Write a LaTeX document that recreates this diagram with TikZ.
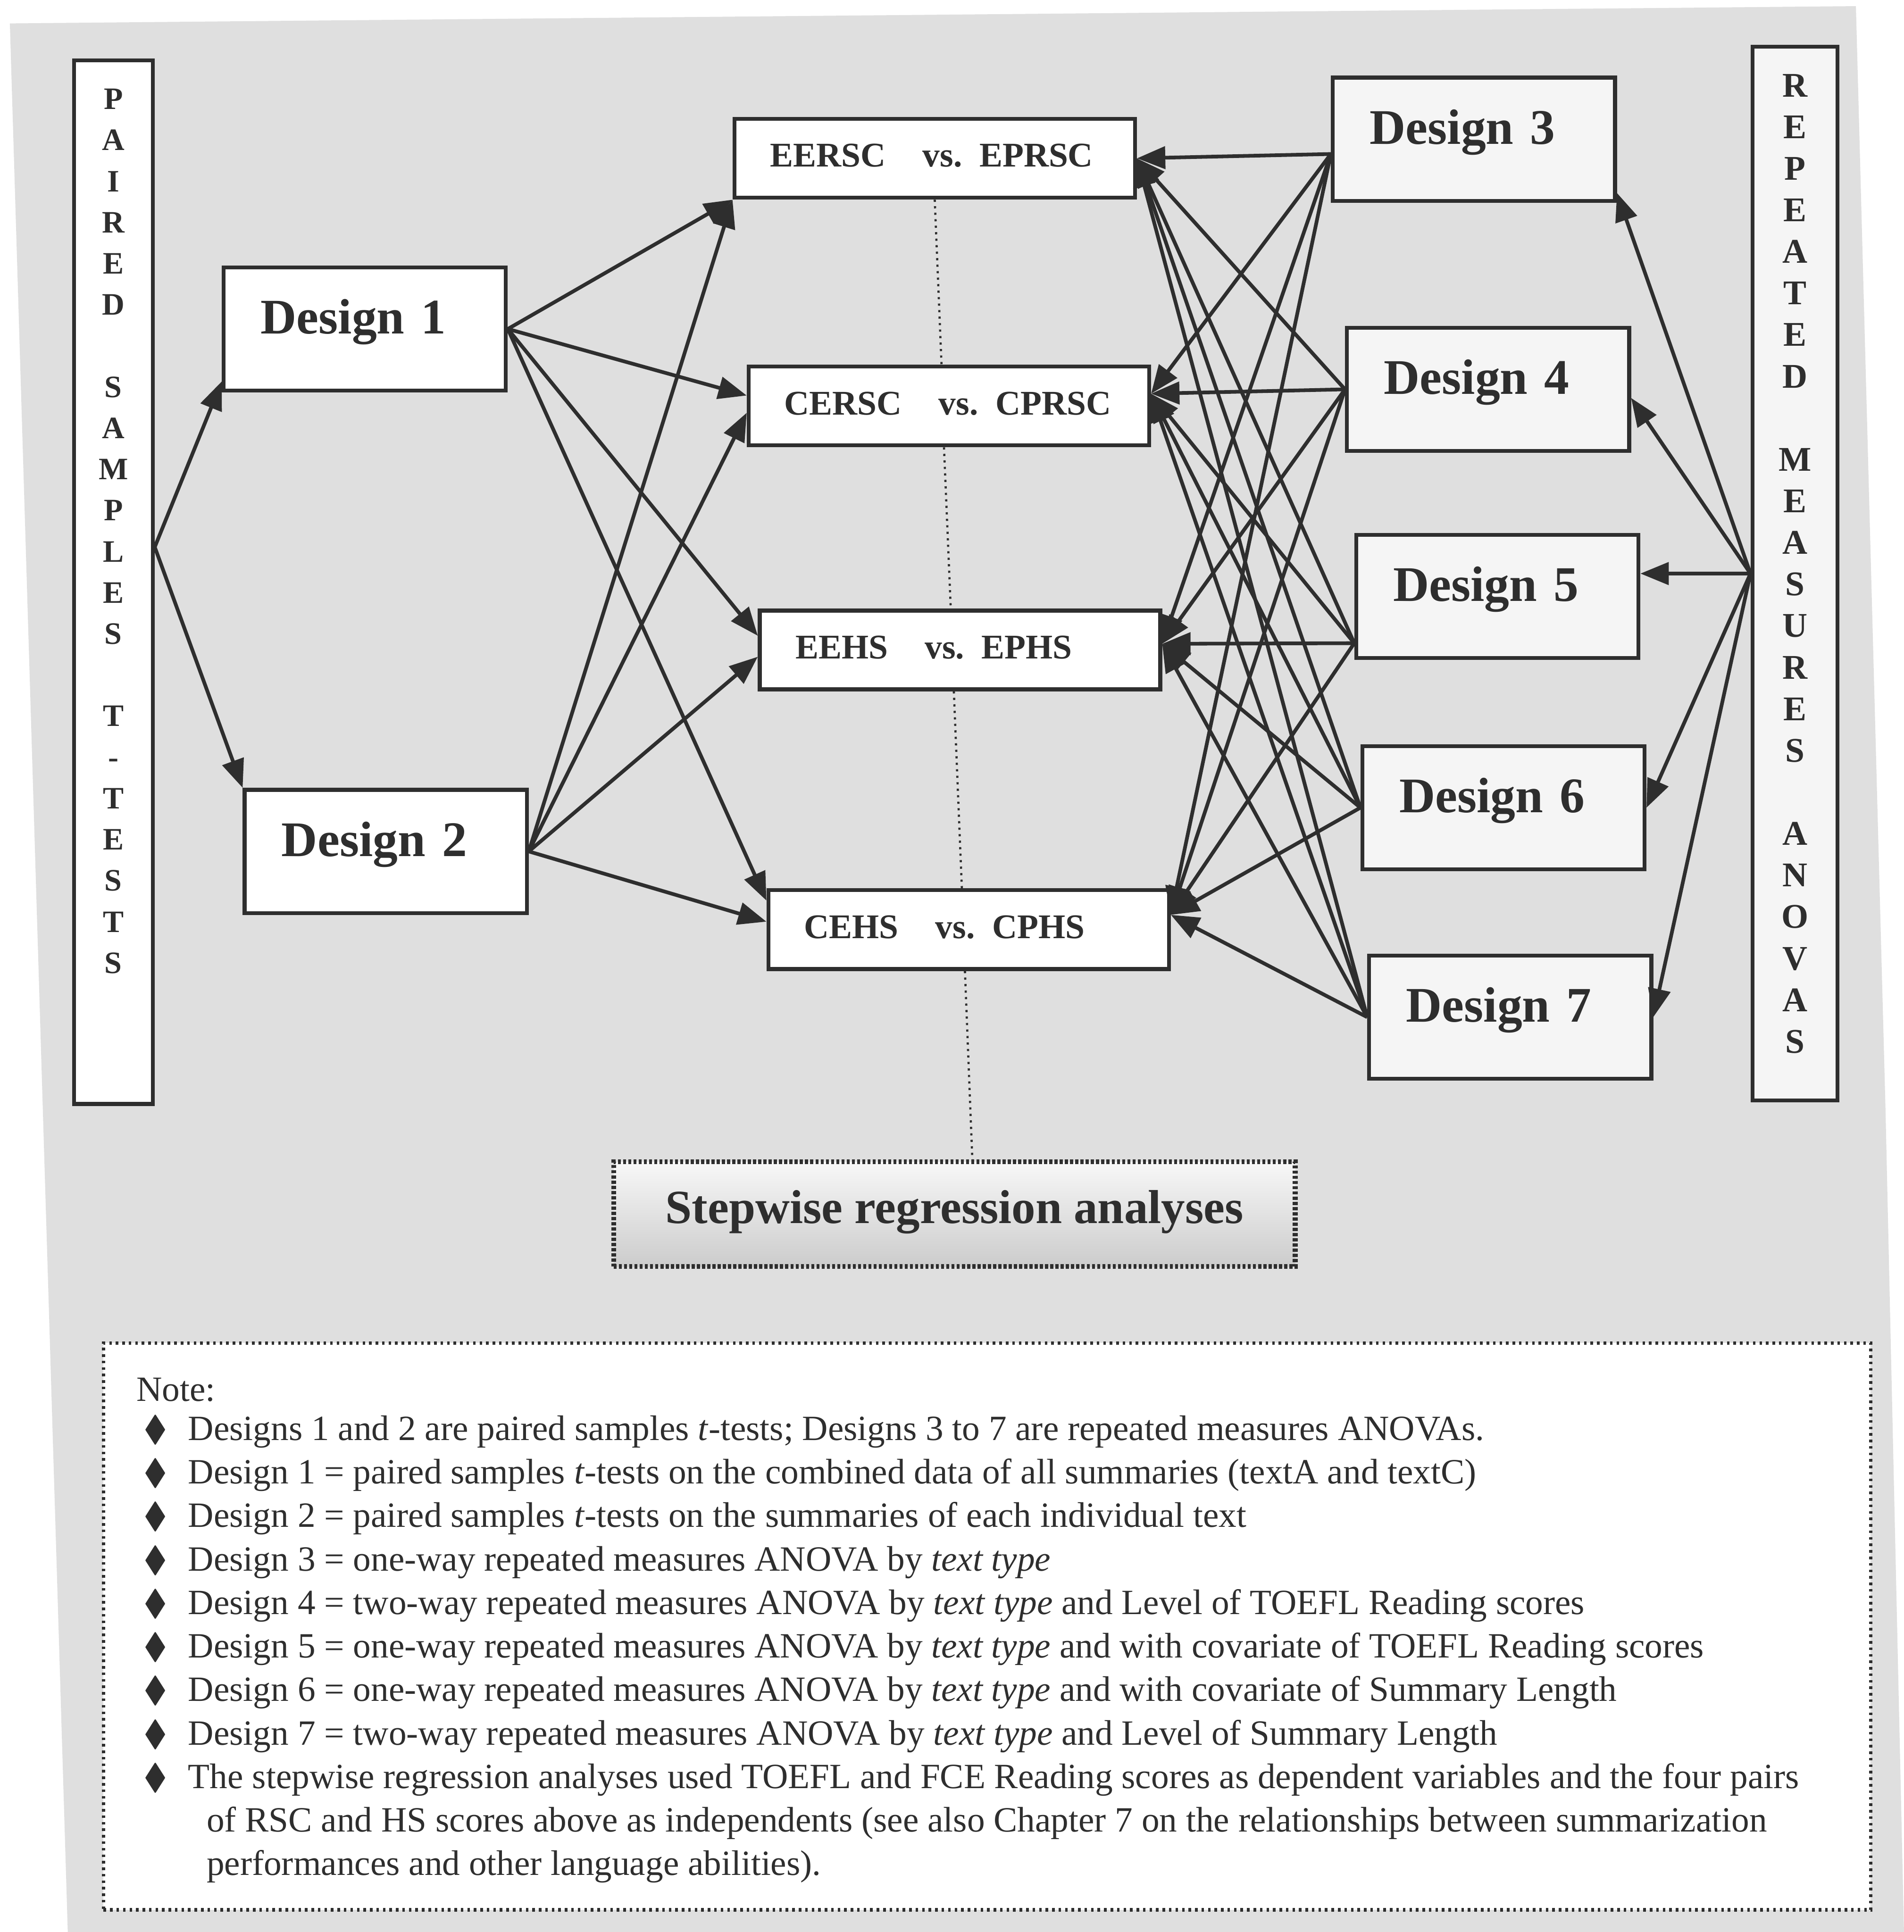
\documentclass[tikz,border=0pt]{standalone}
\usepackage{amsmath,amssymb}
\usepackage{fontspec}
\setmainfont{Liberation Serif}
\usepackage{tikz}
\usetikzlibrary{arrows.meta,positioning,calc}

\definecolor{ink}{gray}{0.18}
\definecolor{scan}{gray}{0.875}
\definecolor{paper}{gray}{0.96}

\newcommand{\notebullet}{\hspace*{0.06cm}$\blacklozenge$}
\newcommand{\pairtext}[2]{\mbox{#1\hspace{0.3cm}vs. #2}}

\tikzset{
  conn/.style={draw=ink, line width=0.85pt, -{Triangle[length=2.3mm,width=1.8mm]}},
  design/.style={draw=ink, line width=0.9pt, fill=white, text=ink,
    minimum width=2.29cm, text width=1.69cm, inner xsep=0.3cm, inner ysep=0pt,
    align=left, text height=0.54cm, text depth=0.46cm,
    font=\bfseries\fontsize{11.5}{13}\selectfont},
  anova/.style={design, fill=paper},
  pair/.style={draw=ink, line width=0.9pt, fill=white, text=ink,
    minimum width=3.25cm, text width=2.67cm, inner xsep=0.29cm, inner ysep=0pt,
    align=left, text height=0.39cm, text depth=0.25cm,
    font=\bfseries\fontsize{8}{9.6}\selectfont},
  bar/.style={draw=ink, line width=0.9pt, fill=white, inner sep=0pt},
  barletters/.style={inner sep=0pt, align=center, anchor=north, text=ink},
  guide/.style={draw=ink, line width=0.5pt, densely dotted},
  stepbox/.style={draw=ink, line width=1.1pt, dash pattern=on 0.7pt off 0.5pt,
    top color=black!3, bottom color=black!20, text=ink,
    minimum width=5.53cm, inner ysep=0pt, text height=0.5cm, text depth=0.35cm,
    font=\bfseries\fontsize{11}{13}\selectfont},
  notebox/.style={draw=ink, line width=0.8pt, dash pattern=on 0.6pt off 0.9pt,
    fill=white, minimum width=14.34cm, minimum height=4.6cm},
  notetext/.style={inner sep=0pt, anchor=base west, text=ink,
    font=\fontsize{8.2}{10.05}\selectfont},
}

\begin{document}
\begin{tikzpicture}
  \useasboundingbox (0,0) rectangle (15.45,-15.68);
  % scanned page background
  \fill[scan] (0.08,-0.19) -- (15.06,-0.05) -- (15.30,-9.0) -- (15.45,-15.68)
    -- (0.55,-15.68) -- cycle;

  % side bars
  \node[bar, minimum width=0.64cm, minimum height=8.47cm] (pbar) at (0.92,-4.725) {};
  \node[barletters, font=\bfseries\fontsize{7.2}{9.5}\selectfont] (ptext)
    at ([yshift=-0.24cm]pbar.north)
    {P\\A\\I\\R\\E\\D\\[9.5pt]S\\A\\M\\P\\L\\E\\S\\[9.5pt]T\\-\\T\\E\\S\\T\\S};

  \node[bar, fill=paper, minimum width=0.69cm, minimum height=8.55cm] (rbar) at (14.565,-4.655) {};
  \node[barletters, font=\bfseries\fontsize{8}{9.6}\selectfont] (rtext)
    at ([yshift=-0.23cm]rbar.north)
    {R\\E\\P\\E\\A\\T\\E\\D\\[9.6pt]M\\E\\A\\S\\U\\R\\E\\S\\[9.6pt]A\\N\\O\\V\\A\\S};

  % designs
  \node[design] (d1) at (2.96,-2.67) {Design 1};
  \node[design] (d2) at (3.13,-6.91) {Design 2};
  \node[anova] (d3) at (11.96,-1.13) {Design 3};
  \node[anova] (d4) at (12.075,-3.16) {Design 4};
  \node[anova] (d5) at (12.15,-4.84) {Design 5};
  \node[anova] (d6) at (12.20,-6.555) {Design 6};
  \node[anova] (d7) at (12.255,-8.255) {Design 7};

  % score pairs
  \node[pair] (eersc) at (7.585,-1.285) {\pairtext{EERSC}{EPRSC}};
  \node[pair] (cersc) at (7.70,-3.295) {\pairtext{CERSC}{CPRSC}};
  \node[pair] (eehs) at (7.79,-5.275) {\pairtext{EEHS}{EPHS}};
  \node[pair] (cehs) at (7.86,-7.545) {\pairtext{CEHS}{CPHS}};

  \node[stepbox] (stepwise) at (7.745,-9.855) {Stepwise regression analyses};

  % dotted link down to the regressions
  \draw[guide] (eersc.south) -- ([xshift=-0.06cm]cersc.north);
  \draw[guide] ([xshift=-0.04cm]cersc.south) -- ([xshift=-0.075cm]eehs.north);
  \draw[guide] ([xshift=-0.05cm]eehs.south) -- ([xshift=-0.055cm]cehs.north);
  \draw[guide] ([xshift=-0.03cm]cehs.south) -- ([xshift=0.145cm]stepwise.north);

  % t-tests
  \draw[conn] ([yshift=0.285cm]pbar.east) -- ([yshift=0.09cm]d1.south west);
  \draw[conn] ([yshift=0.285cm]pbar.east) -- (d2.north west);

  \draw[conn] (d1.east) -- (eersc.south west);
  \draw[conn] (d1.east) -- ([yshift=0.085cm]cersc.west);
  \draw[conn] (d1.east) -- ([yshift=0.115cm]eehs.west);
  \draw[conn] (d1.east) -- ([yshift=-0.10cm]cehs.north west);
  \draw[conn] (d2.east) -- (eersc.south west);
  \draw[conn] (d2.east) -- ([yshift=-0.055cm]cersc.west);
  \draw[conn] (d2.east) -- ([yshift=-0.055cm]eehs.west);
  \draw[conn] (d2.east) -- ([yshift=0.065cm]cehs.west);

  % ANOVAs
  \draw[conn] (rbar.west) -- ([yshift=0.08cm]d3.south east);
  \draw[conn] (rbar.west) -- ([yshift=-0.07cm]d4.east);
  \draw[conn] (rbar.west) -- (rbar.west -| d5.east);
  \draw[conn] (rbar.west) -- (d6.east);
  \draw[conn] (rbar.west) -- (d7.east);

  \coordinate (d3o) at ([yshift=-0.12cm]d3.west);
  \coordinate (d4o) at (d4.west);
  \coordinate (d5o) at ([yshift=-0.38cm]d5.west);
  \coordinate (d6o) at (d6.west);
  \coordinate (d7o) at (d7.west);
  \coordinate (eerscin) at (eersc.east);
  \coordinate (cerscin) at ([yshift=0.1cm]cersc.east);
  \coordinate (eehsin) at ([yshift=0.05cm]eehs.east);
  \coordinate (cehsin) at ([yshift=0.12cm]cehs.east);
  \foreach \s in {d3o,d4o,d5o,d6o,d7o}
    \foreach \t in {eerscin,cerscin,eehsin,cehsin}
      \draw[conn] (\s) -- (\t);

  % note
  \node[notebox] (note) at (8.01,-13.20) {};
  \node[notetext] (notelist) at (1.10,-11.37) {%
    \renewcommand{\arraystretch}{1}%
    \begin{tabular}[t]{@{}p{0.42cm}@{}l@{}}
      \multicolumn{2}{@{}l@{}}{Note:}\\[-1pt]
      \notebullet & Designs 1 and 2 are paired samples \textit{t}-tests; Designs 3 to 7 are repeated measures ANOVAs.\\
      \notebullet & Design 1 = paired samples \textit{t}-tests on the combined data of all summaries (textA and textC)\\
      \notebullet & Design 2 = paired samples \textit{t}-tests on the summaries of each individual text\\
      \notebullet & Design 3 = one-way repeated measures ANOVA by \textit{text type}\\
      \notebullet & Design 4 = two-way repeated measures ANOVA by \textit{text type} and Level of TOEFL Reading scores\\
      \notebullet & Design 5 = one-way repeated measures ANOVA by \textit{text type} and with covariate of TOEFL Reading scores\\
      \notebullet & Design 6 = one-way repeated measures ANOVA by \textit{text type} and with covariate of Summary Length\\
      \notebullet & Design 7 = two-way repeated measures ANOVA by \textit{text type} and Level of Summary Length\\
      \notebullet & The stepwise regression analyses used TOEFL and FCE Reading scores as dependent variables and the four pairs\\
                  & \hspace{0.15cm}of RSC and HS scores above as independents (see also Chapter 7 on the relationships between summarization\\
                  & \hspace{0.15cm}performances and other language abilities).
    \end{tabular}};
\end{tikzpicture}
\end{document}
